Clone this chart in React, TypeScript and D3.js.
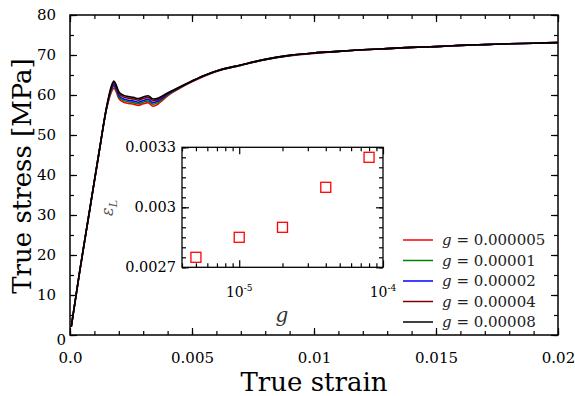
import React, { useRef, useEffect } from "react";
import {
    select,
    scaleLinear,
    scaleLog,
    line,
    curveMonotoneX,
    axisBottom,
    axisTop,
    axisLeft,
    axisRight,
    range
} from "d3";

// strain grid shared by all curves
const strain = [
    0.00005, 0.0004, 0.0008, 0.0012, 0.0015, 0.0017, 0.0018, 0.0019, 0.002, 0.0022,
    0.0024, 0.0026, 0.0028, 0.003, 0.0032, 0.0034, 0.0036, 0.0038, 0.004, 0.0045,
    0.005, 0.0055, 0.006, 0.007, 0.008, 0.009, 0.01, 0.011, 0.012, 0.013,
    0.014, 0.015, 0.016, 0.017, 0.018, 0.019, 0.02
];

const stressG000005 = [
    2.0, 16.0, 31.0, 46.0, 56.6, 60.8, 61.7, 60.7, 59.1, 58.2,
    57.9, 57.7, 57.4, 57.8, 58.1, 57.2, 57.7, 58.7, 59.8, 61.7,
    63.3, 64.7, 65.9, 67.4, 68.8, 69.8, 70.4, 70.9, 71.3, 71.6,
    71.9, 72.1, 72.4, 72.6, 72.8, 72.95, 73.1
];
const stressG00001 = [
    2.0, 16.0, 31.0, 46.0, 56.7, 61.2, 62.2, 61.1, 59.5, 58.6,
    58.3, 58.1, 57.8, 58.2, 58.5, 57.7, 58.1, 59.0, 60.0, 61.8,
    63.4, 64.8, 65.9, 67.4, 68.8, 69.8, 70.5, 70.9, 71.3, 71.6,
    71.9, 72.1, 72.4, 72.6, 72.8, 72.95, 73.1
];
const stressG00002 = [
    2.0, 16.0, 31.0, 46.0, 56.8, 61.6, 62.6, 61.5, 59.9, 59.0,
    58.7, 58.5, 58.2, 58.6, 58.9, 58.1, 58.5, 59.3, 60.2, 61.9,
    63.4, 64.8, 66.0, 67.5, 68.9, 69.9, 70.5, 70.9, 71.3, 71.6,
    71.9, 72.1, 72.4, 72.6, 72.8, 72.95, 73.1
];
const stressG00004 = [
    2.0, 16.0, 31.0, 46.0, 56.9, 62.0, 63.1, 62.0, 60.4, 59.5,
    59.2, 59.0, 58.7, 59.1, 59.4, 58.6, 58.9, 59.6, 60.4, 62.0,
    63.5, 64.9, 66.0, 67.5, 68.9, 69.9, 70.5, 70.9, 71.3, 71.6,
    71.9, 72.1, 72.4, 72.6, 72.8, 72.95, 73.1
];
const stressG00008 = [
    2.0, 16.0, 31.0, 46.0, 57.0, 62.3, 63.5, 62.4, 60.8, 59.9,
    59.6, 59.4, 59.1, 59.5, 59.8, 59.0, 59.2, 59.8, 60.5, 62.0,
    63.5, 64.9, 66.0, 67.5, 68.9, 69.9, 70.5, 70.9, 71.3, 71.6,
    71.9, 72.1, 72.4, 72.6, 72.8, 72.95, 73.1
];

const seriesLabels = ["0.000005", "0.00001", "0.00002", "0.00004", "0.00008"];
const seriesColors = ["#ff0000", "#008000", "#0000ff", "#800000", "#000000"];
const seriesStress = [stressG000005, stressG00001, stressG00002, stressG00004, stressG00008];

// inset: localisation strain vs g
const gValues = [0.000005, 0.00001, 0.00002, 0.00004, 0.00008];
const epsL = [0.00275, 0.00285, 0.0029, 0.0031, 0.00325];

const xTickValues = [0, 0.005, 0.01, 0.015, 0.02];
const xTickLabels = ["0.0", "0.005", "0.01", "0.015", "0.02"];
const yTickValues = [0, 10, 20, 30, 40, 50, 60, 70, 80];
const insetYTicks = [0.0027, 0.003, 0.0033];
const insetYLabels = ["0.0027", "0.003", "0.0033"];
const insetXTicks = [0.00001, 0.0001];
const insetXExp = ["-5", "-4"];

const FONT = "'DejaVu Serif', serif";

const App = () => {
    const svgRef = useRef<SVGSVGElement>(null);
    const width = 575;
    const height = 396;

    useEffect(() => {
        const svg = select(svgRef.current);
        svg.selectAll("*").remove();

        const x = scaleLinear().domain([0, 0.02]).range([70, 558]);
        const y = scaleLinear().domain([0, 80]).range([335, 15]);

        // draws inward ticks, optional labels
        const addAxis = (axisGen, transform, values, size, fmt, fontSize = 15, pad = 14) => {
            const g = svg.append("g")
                .attr("transform", transform)
                .call(axisGen.tickValues(values).tickSize(size).tickSizeOuter(0)
                    .tickPadding(pad)
                    .tickFormat(fmt ? fmt : () => ""));
            g.select(".domain").remove();
            g.selectAll("line").attr("stroke", "#000").attr("stroke-width", 1.2);
            g.attr("font-family", FONT).attr("font-size", fontSize);
            g.selectAll("text").attr("fill", "#000");
            return g;
        };

        const xMinor = range(0, 0.0201, 0.001);
        const yMinor = range(0, 81, 5);

        addAxis(axisBottom(x), "translate(0,335)", xMinor, -4, null);
        addAxis(axisTop(x), "translate(0,15)", xMinor, -4, null);
        addAxis(axisLeft(y), "translate(70,0)", yMinor, -4, null);
        addAxis(axisRight(y), "translate(558,0)", yMinor, -4, null);
        addAxis(axisTop(x), "translate(0,15)", xTickValues, -7, null);
        addAxis(axisRight(y), "translate(558,0)", yTickValues, -7, null);
        addAxis(axisBottom(x), "translate(0,335)", xTickValues, -7,
            (d) => xTickLabels[xTickValues.indexOf(d)], 15, 17);
        const yAx = addAxis(axisLeft(y), "translate(70,0)", yTickValues, -7, (d) => String(d), 15, 14);
        yAx.selectAll("text").filter((d) => d === 0).attr("x", -4).attr("dy", "0.6em");

        // frame
        svg.append("rect")
            .attr("x", 70).attr("y", 15).attr("width", 488).attr("height", 320)
            .attr("fill", "none").attr("stroke", "#000").attr("stroke-width", 1.5);

        // curves
        const myLine = line()
            .x((d) => x(d[0]))
            .y((d) => y(d[1]))
            .curve(curveMonotoneX);

        seriesStress.forEach((s, i) => {
            svg.append("path")
                .datum(strain.map((e, j) => [e, s[j]]))
                .attr("d", myLine)
                .attr("fill", "none")
                .attr("stroke", seriesColors[i])
                .attr("stroke-width", 1.6)
                .attr("stroke-linejoin", "round");
        });

        // inset
        const ix = scaleLog().domain([0.000004, 0.0001]).range([182, 383]);
        const iy = scaleLinear().domain([0.0027, 0.0033]).range([267.3, 147.3]);

        svg.append("rect")
            .attr("x", 182).attr("y", 147.3).attr("width", 201).attr("height", 120)
            .attr("fill", "#fff");

        const ixMinor = [0.000004, 0.000005, 0.000006, 0.000007, 0.000008, 0.000009,
            0.00002, 0.00003, 0.00004, 0.00005, 0.00006, 0.00007, 0.00008, 0.00009];
        const iyMinor = range(0.0027, 0.003301, 0.00005);

        addAxis(axisBottom(ix), "translate(0,267.3)", ixMinor, -4, null);
        addAxis(axisTop(ix), "translate(0,147.3)", ixMinor, -4, null);
        addAxis(axisBottom(ix), "translate(0,267.3)", insetXTicks, -7, null);
        addAxis(axisTop(ix), "translate(0,147.3)", insetXTicks, -7, null);
        addAxis(axisLeft(iy), "translate(182,0)", iyMinor, -4, null);
        addAxis(axisRight(iy), "translate(383,0)", iyMinor, -4, null);
        addAxis(axisRight(iy), "translate(383,0)", insetYTicks, -7, null);
        addAxis(axisLeft(iy), "translate(182,0)", insetYTicks, -7,
            (d) => insetYLabels[insetYTicks.indexOf(d)], 14.5, 6);

        svg.append("rect")
            .attr("x", 182).attr("y", 147.3).attr("width", 201).attr("height", 120)
            .attr("fill", "none").attr("stroke", "#000").attr("stroke-width", 1.3);

        insetXTicks.forEach((v, i) => {
            const t = svg.append("text")
                .attr("x", ix(v)).attr("y", 297)
                .attr("text-anchor", "middle")
                .attr("font-family", FONT).attr("font-size", 14);
            t.append("tspan").text("10");
            t.append("tspan").attr("dy", -6).attr("font-size", 9).text(insetXExp[i]);
        });

        svg.selectAll(".sq")
            .data(gValues.map((g, i) => [g, epsL[i]]))
            .join("rect")
            .attr("class", "sq")
            .attr("x", (d) => ix(d[0]) - 5)
            .attr("y", (d) => iy(d[1]) - 5)
            .attr("width", 10).attr("height", 10)
            .attr("fill", "none").attr("stroke", "#ff0000").attr("stroke-width", 1.3);

        svg.append("text")
            .attr("x", 282).attr("y", 322)
            .attr("text-anchor", "middle")
            .attr("font-family", FONT).attr("font-style", "italic").attr("font-size", 20)
            .attr("fill", "#333")
            .text("g");

        const epsLabel = svg.append("text")
            .attr("transform", "translate(113,208) rotate(-90)")
            .attr("text-anchor", "middle")
            .attr("font-family", FONT).attr("font-size", 16).attr("fill", "#555");
        epsLabel.append("tspan").attr("font-style", "italic").text("ε");
        epsLabel.append("tspan").attr("font-style", "italic").attr("font-size", 11).attr("dy", 4).text("L");

        // legend
        seriesLabels.forEach((lab, i) => {
            const ly = 240 + i * 20.5;
            svg.append("line")
                .attr("x1", 403).attr("x2", 433).attr("y1", ly).attr("y2", ly)
                .attr("stroke", seriesColors[i]).attr("stroke-width", 1.5);
            const t = svg.append("text")
                .attr("x", 442).attr("y", ly + 5)
                .attr("font-family", FONT).attr("font-size", 15).attr("fill", "#222");
            t.append("tspan").attr("font-style", "italic").text("g");
            t.append("tspan").text(" = " + lab);
        });

        // axis titles
        svg.append("text")
            .attr("x", 314).attr("y", 391)
            .attr("text-anchor", "middle")
            .attr("font-family", FONT).attr("font-size", 26)
            .text("True strain");
        svg.append("text")
            .attr("transform", "translate(31,176) rotate(-90)")
            .attr("text-anchor", "middle")
            .attr("font-family", FONT).attr("font-size", 26)
            .text("True stress [MPa]");
    }, []);

    return (
        <svg ref={svgRef} width={width} height={height}
            style={{ position: "absolute", left: 0, top: 0, background: "#fff" }} />
    );
};

export default App;
